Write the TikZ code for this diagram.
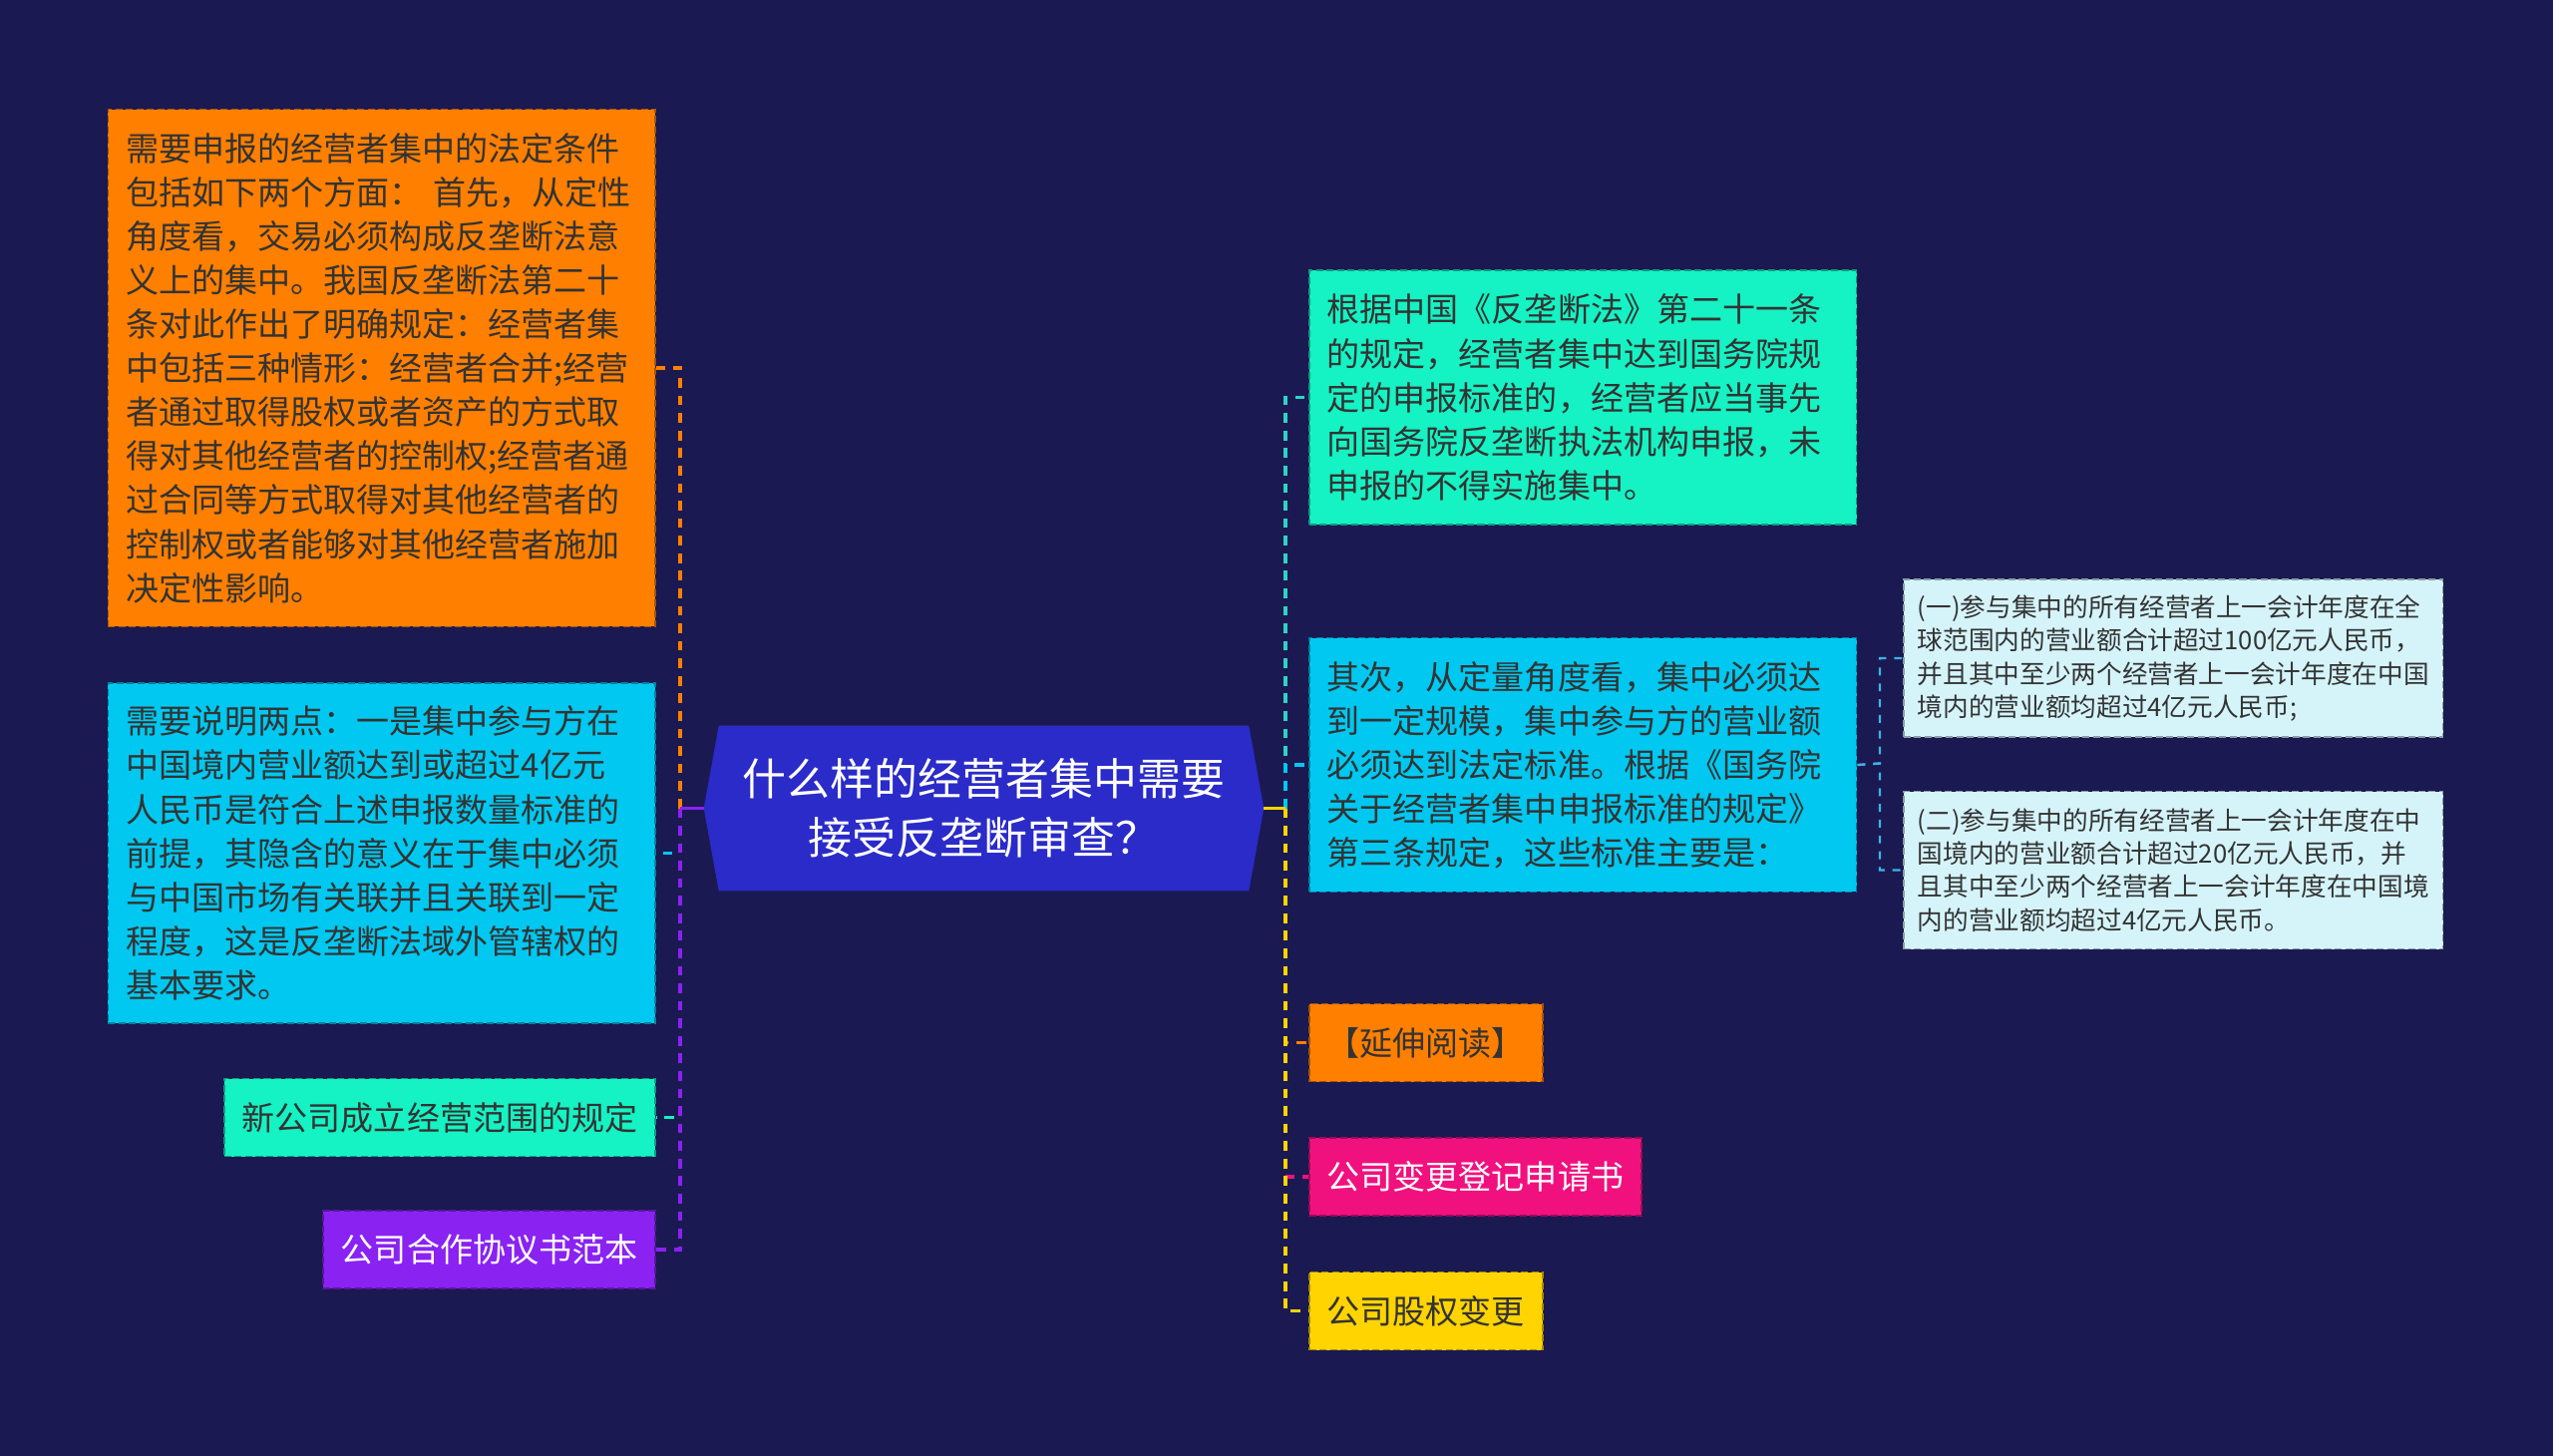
\documentclass[tikz,border=0pt]{standalone}
\usepackage{fontspec}
\setmainfont{Noto Sans CJK SC}
\usetikzlibrary{positioning, backgrounds}
\definecolor{mmnavy}{HTML}{1B1952}
\definecolor{mmorange}{HTML}{FF7F00}
\definecolor{mmcyan}{HTML}{00C8F0}
\definecolor{mmgreen}{HTML}{15F2C3}
\definecolor{mmteal}{HTML}{2ED3C6}
\definecolor{mmpurple}{HTML}{8A22F2}
\definecolor{mmblue}{HTML}{2A2BC8}
\definecolor{mmpale}{HTML}{D5F4FA}
\definecolor{mmsky}{HTML}{3DB2E5}
\definecolor{mmpink}{HTML}{F0117E}
\definecolor{mmyellow}{HTML}{FFD400}
\definecolor{mmink}{HTML}{333333}

\begin{document}
\begin{tikzpicture}[
  x=0.02cm, y=-0.02cm,
  every node/.style={font=\fontsize{18.8}{25.1}\selectfont},
  topic/.style={rectangle, fill=#1, draw=#1!65!black, line width=0.9pt, dash pattern=on 4pt off 2pt, text=mmink, align=left, inner xsep=0.36cm, inner ysep=0pt},
  bigtopic/.style={topic=#1, text width=10.26cm},
  chip/.style={topic=#1, minimum height=1.56cm},
  note/.style={topic=mmpale, text width=10.26cm, inner xsep=0.28cm, minimum height=3.16cm, font=\fontsize{14.6}{18.9}\selectfont},
  hub/.style={rectangle, text=white, align=center, minimum width=11.22cm, minimum height=3.3cm, font=\fontsize{25}{33.3}\selectfont},
  link/.style={draw=#1, line width=2pt, dash pattern=on 5.5pt off 4.5pt},
  stem/.style={draw=#1, line width=2pt},
  twig/.style={draw=mmsky, line width=1.3pt, dash pattern=on 4.5pt off 4.5pt},
]

\begin{scope}[on background layer]
  \fill[mmnavy] (0,0) rectangle (2560,1460);
\end{scope}
\useasboundingbox (0,0) rectangle (2560,1460);

% centre topic
\node[hub] (hub) at (986.5,810.5) {什么样的经营者集中需要\\接受反垄断审查？};
\begin{scope}[on background layer]
  \fill[mmblue] (hub.west) -- ([xshift=0.3cm]hub.north west) -- ([xshift=-0.3cm]hub.north east)
    -- (hub.east) -- ([xshift=-0.3cm]hub.south east) -- ([xshift=0.3cm]hub.south west) -- cycle;
\end{scope}

% left branch
\node[bigtopic=mmorange, minimum height=10.38cm, anchor=east] (ordLeft) at (658,369) {需要申报的经营者集中的法定条件\\包括如下两个方面： 首先，从定性\\角度看，交易必须构成反垄断法意\\义上的集中。我国反垄断法第二十\\条对此作出了明确规定：经营者集\\中包括三种情形：经营者合并;经营\\者通过取得股权或者资产的方式取\\得对其他经营者的控制权;经营者通\\过合同等方式取得对其他经营者的\\控制权或者能够对其他经营者施加\\决定性影响。};
\node[bigtopic=mmcyan, minimum height=6.82cm, below=1.1cm of ordLeft.south east, anchor=north east] (reqLeft) {需要说明两点：一是集中参与方在\\中国境内营业额达到或超过4亿元\\人民币是符合上述申报数量标准的\\前提，其隐含的意义在于集中必须\\与中国市场有关联并且关联到一定\\程度，这是反垄断法域外管辖权的\\基本要求。};
\node[chip=mmgreen, below=1.08cm of reqLeft.south east, anchor=north east] (scopeLink) {新公司成立经营范围的规定};
\node[chip=mmpurple, text=white, below=1.06cm of scopeLink.south east, anchor=north east] (coopLink) {公司合作协议书范本};

% right branch
\node[bigtopic=mmgreen, minimum height=5.1cm, anchor=west] (lawBox) at (1312,398.5) {根据中国《反垄断法》第二十一条\\的规定，经营者集中达到国务院规\\定的申报标准的，经营者应当事先\\向国务院反垄断执法机构申报，未\\申报的不得实施集中。};
\node[bigtopic=mmcyan, minimum height=5.1cm, below=2.24cm of lawBox.south west, anchor=north west] (scaleBox) {其次，从定量角度看，集中必须达\\到一定规模，集中参与方的营业额\\必须达到法定标准。根据《国务院\\关于经营者集中申报标准的规定》\\第三条规定，这些标准主要是：};
\node[note, anchor=west] (globalBox) at (1908,660) {(一)参与集中的所有经营者上一会计年度在全\\球范围内的营业额合计超过100亿元人民币，\\并且其中至少两个经营者上一会计年度在中国\\境内的营业额均超过4亿元人民币;};
\node[note, below=1.06cm of globalBox.south west, anchor=north west] (domBox) {(二)参与集中的所有经营者上一会计年度在中\\国境内的营业额合计超过20亿元人民币，并\\且其中至少两个经营者上一会计年度在中国境\\内的营业额均超过4亿元人民币。};
\node[chip=mmorange, anchor=west] (extRead) at (1312,1045.5) {【延伸阅读】};
\node[chip=mmpink, text=white, below=1.1cm of extRead.south west, anchor=north west] (regForm) {公司变更登记申请书};
\node[chip=mmyellow, below=1.1cm of regForm.south west, anchor=north west] (stockChg) {公司股权变更};

\coordinate (ltrunk) at (682,810.5);
\coordinate (rtrunk) at (1289,810.5);
\coordinate (strunk) at (1885,765.5);

% connectors
\draw[link=mmorange] (ltrunk) |- (ordLeft.east);
\draw[link=mmcyan] (ltrunk) |- (reqLeft.east);
\draw[link=mmgreen] (ltrunk) |- (scopeLink.east);
\draw[link=mmpurple] (ltrunk) |- (coopLink.east);
\draw[stem=mmpurple] (hub.west) -- (ltrunk);

\draw[link=mmteal] (rtrunk) |- (lawBox.west);
\draw[link=mmcyan] (rtrunk) |- (scaleBox.west);
\draw[link=mmorange] (rtrunk) |- (extRead.west);
\draw[link=mmpink] (rtrunk) |- (regForm.west);
\draw[link=mmyellow] (rtrunk) |- (stockChg.west);
\draw[stem=mmyellow] (hub.east) -- (rtrunk);

\draw[twig] (scaleBox.east) -- (strunk) |- (globalBox.west);
\draw[twig] (scaleBox.east) -- (strunk) |- (domBox.west);

\end{tikzpicture}
\end{document}
